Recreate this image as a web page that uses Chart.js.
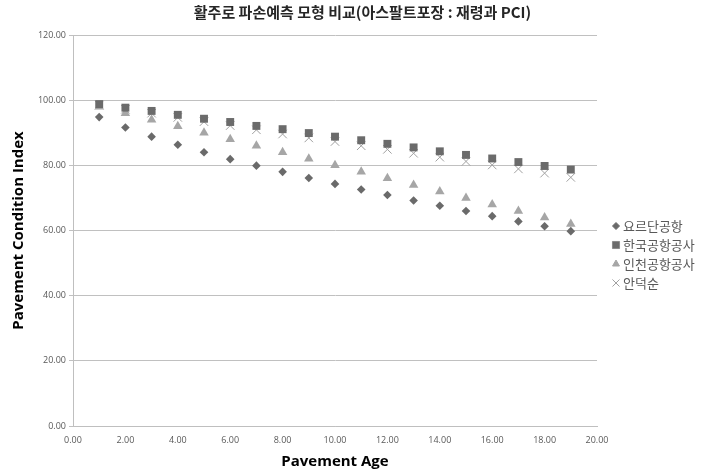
<!DOCTYPE html>
<html>
<head>
<meta charset="utf-8">
<script src="https://cdn.jsdelivr.net/npm/chart.js@4/dist/chart.umd.min.js"></script>
<style>
  html, body { margin: 0; padding: 0; background: #fff; }
  #wrap { width: 725px; height: 473px; position: relative; }
</style>
</head>
<body>
<div id="wrap"><canvas id="c"></canvas></div>
<script>
// Pavement age (years)
const ages = [1, 2, 3, 4, 5, 6, 7, 8, 9, 10, 11, 12, 13, 14, 15, 16, 17, 18, 19];

// PCI values
const jordanAirport = [94.8, 91.6, 88.8, 86.3, 84.0, 81.9, 79.9, 78.0, 76.1, 74.3, 72.6, 70.9, 69.2, 67.6, 66.0, 64.4, 62.8, 61.3, 59.8];
const koreaAirports = [98.8, 97.7, 96.7, 95.5, 94.3, 93.3, 92.1, 91.1, 89.9, 88.8, 87.7, 86.6, 85.5, 84.3, 83.2, 82.1, 81.0, 79.8, 78.7];
const incheonAirport = [98.0, 96.0, 94.0, 92.0, 90.0, 88.0, 86.0, 84.0, 82.0, 80.0, 78.0, 76.0, 74.0, 72.0, 70.0, 68.0, 66.0, 64.0, 62.0];
const ahnDukSoon = [98.5, 97.2, 96.0, 94.7, 93.4, 92.2, 90.9, 89.6, 88.4, 87.3, 86.0, 84.9, 83.7, 82.5, 81.2, 80.1, 78.9, 77.6, 76.3];

const seriesNames = ['요르단공항', '한국공항공사', '인천공항공사', '안덕순'];
const titleText = '활주로 파손예측 모형 비교(아스팔트포장 : 재령과 PCI)';

function toPoints(ys) {
    return ages.map((x, i) => ({ x: x, y: ys[i] }));
}

// Legend drawn on the right side, one row per dataset
const sideLegend = {
    id: 'sideLegend',
    afterDraw(chart) {
        const ctx = chart.ctx;
        const rows = [226, 245, 264, 283];
        ctx.save();
        ctx.font = '13px "Noto Sans CJK KR", "Noto Sans", sans-serif';
        ctx.textBaseline = 'middle';
        chart.data.datasets.forEach((ds, i) => {
            const y = rows[i];
            ctx.fillStyle = ds.backgroundColor;
            ctx.strokeStyle = ds.borderColor;
            ctx.lineWidth = 1;
            Chart.helpers.drawPoint(ctx, {
                pointStyle: ds.pointStyle,
                radius: ds.legendRadius,
                rotation: 0,
                borderWidth: 1
            }, 616, y);
            ctx.fillStyle = '#595959';
            ctx.fillText(ds.label, 623, y);
        });
        ctx.restore();
    }
};

const tickFont = { family: '"Open Sans", sans-serif', size: 9 };
const axisTitleFont = { family: '"Open Sans", sans-serif', size: 15, weight: 'bold' };

new Chart(document.getElementById('c'), {
    type: 'scatter',
    data: {
        datasets: [
            {
                label: seriesNames[0],
                data: toPoints(jordanAirport),
                pointStyle: 'rectRot',
                pointRadius: 4.3,
                legendRadius: 3.5,
                backgroundColor: '#6a6a6a',
                borderColor: '#6a6a6a',
                borderWidth: 0
            },
            {
                label: seriesNames[1],
                data: toPoints(koreaAirports),
                pointStyle: 'rect',
                pointRadius: 5.6,
                legendRadius: 5,
                backgroundColor: '#6b6b6b',
                borderColor: '#8a8a8a',
                borderWidth: 0
            },
            {
                label: seriesNames[2],
                data: toPoints(incheonAirport),
                pointStyle: 'triangle',
                pointRadius: 5.5,
                legendRadius: 4,
                backgroundColor: '#a6a6a6',
                borderColor: '#a6a6a6',
                borderWidth: 0
            },
            {
                label: seriesNames[3],
                data: toPoints(ahnDukSoon),
                pointStyle: 'crossRot',
                pointRadius: 6,
                legendRadius: 5,
                backgroundColor: '#a0a0a0',
                borderColor: '#a0a0a0',
                borderWidth: 1
            }
        ]
    },
    options: {
        responsive: true,
        maintainAspectRatio: false,
        animation: false,
        layout: { padding: 0 },
        plugins: {
            legend: { display: false },
            tooltip: { enabled: false },
            title: {
                display: true,
                text: titleText,
                color: '#262626',
                font: { family: '"Noto Sans CJK KR", sans-serif', size: 15, weight: 'bold' },
                padding: { top: 3, bottom: 14 }
            }
        },
        scales: {
            x: {
                type: 'linear',
                min: 0,
                max: 20,
                ticks: {
                    stepSize: 2,
                    padding: 9,
                    color: '#595959',
                    font: tickFont,
                    maxRotation: 0,
                    callback: v => v.toFixed(2)
                },
                grid: { display: false, drawTicks: false },
                border: { display: true, color: '#bfbfbf', width: 1 },
                title: {
                    display: true,
                    text: 'Pavement Age',
                    color: '#000000',
                    font: axisTitleFont,
                    padding: { top: 6, bottom: 2 }
                },
                afterFit: scale => { scale.height = 47; }
            },
            y: {
                min: 0,
                max: 120,
                ticks: {
                    stepSize: 20,
                    padding: 3,
                    color: '#595959',
                    font: tickFont,
                    callback: v => v.toFixed(2)
                },
                grid: { color: '#c0c0c0', tickLength: 4, drawTicks: true },
                border: { display: true, color: '#bfbfbf', width: 1 },
                title: {
                    display: true,
                    text: 'Pavement Condition Index',
                    color: '#000000',
                    font: axisTitleFont,
                    padding: { top: 10, bottom: 0 }
                },
                afterFit: scale => { scale.width = 73; }
            },
            // empty right-hand box that leaves room for the legend
            yRight: {
                position: 'right',
                min: 0,
                max: 120,
                ticks: { display: false },
                grid: { display: false, drawTicks: false },
                border: { display: false },
                afterFit: scale => { scale.width = 128; }
            }
        }
    },
    plugins: [sideLegend]
});
</script>
</body>
</html>
